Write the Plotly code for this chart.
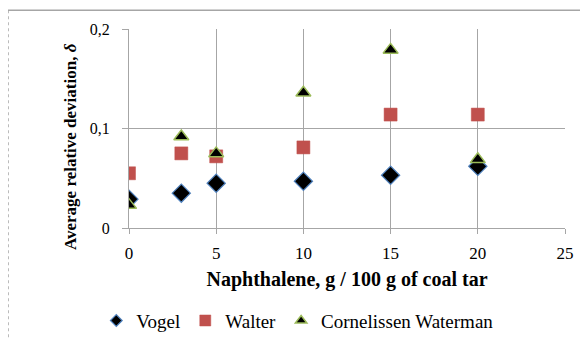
import plotly.graph_objects as go

x_vals = [0, 3, 5, 10, 15, 20]
vogel = [0.029, 0.035, 0.045, 0.047, 0.053, 0.062]
walter = [0.055, 0.075, 0.072, 0.081, 0.114, 0.114]
cornelissen = [0.023, 0.092, 0.075, 0.136, 0.179, 0.069]

y_ticks = [0, 0.1, 0.2]
y_ticktext = ["0", "0,1", "0,2"]
x_ticks = [0, 5, 10, 15, 20, 25]

FONT = "Liberation Serif"

series = [
    ("Vogel", vogel, dict(symbol="diamond", color="black", line=dict(color="#4F81BD", width=1.2)), 14, 9),
    ("Walter", walter, dict(symbol="square", color="#C0504D", line=dict(color="#C0504D", width=0.5)), 13, 11),
    ("Cornelissen Waterman", cornelissen, dict(symbol="triangle-up", color="black", line=dict(color="#9BBB59", width=1.5)), 13, 10),
]

fig = go.Figure()
for name, vals, mk, size, lsize in series:
    fig.add_trace(go.Scatter(x=x_vals, y=vals, mode="markers", name=name,
                             marker=dict(size=size, **mk), showlegend=False))
for name, vals, mk, size, lsize in series:
    fig.add_trace(go.Scatter(x=[None], y=[None], mode="markers", name=name,
                             marker=dict(size=lsize, **mk), showlegend=True))

# figure is placed at page offset (8, 8): plot area page x 129..565, y 29..228
fig.update_layout(
    width=580, height=332,
    margin=dict(l=121, r=23, t=21, b=112, autoexpand=False),
    paper_bgcolor="white", plot_bgcolor="white",
    font=dict(family=FONT, size=16, color="black"),
    legend=dict(orientation="h", x=-0.075, xanchor="left", y=-0.37, yanchor="top",
                font=dict(size=19, family=FONT), itemwidth=30,
                bgcolor="rgba(0,0,0,0)"),
    xaxis=dict(
        range=[0, 25], tickvals=x_ticks, showgrid=True, gridcolor="#A6A6A6", gridwidth=1,
        zeroline=False, showline=True, linecolor="#A6A6A6", linewidth=1,
        ticks="outside", ticklen=5, tickcolor="#A6A6A6", automargin=False,
        ticklabelstandoff=5,
        tickfont=dict(size=17, family=FONT),
        title=dict(text="<b>Naphthalene, g / 100 g of coal tar</b>", standoff=9,
                   font=dict(size=20, family=FONT)),
    ),
    yaxis=dict(
        range=[0, 0.2], tickvals=y_ticks, ticktext=y_ticktext, showgrid=True,
        gridcolor="#A6A6A6", gridwidth=1, zeroline=False, showline=True,
        linecolor="#A6A6A6", linewidth=1, ticks="outside", ticklen=6, tickcolor="#A6A6A6",
        ticklabelstandoff=9,
        automargin=False, tickfont=dict(size=16, family=FONT),
    ),
    annotations=[
        dict(text="<b>Average relative deviation, <i>δ</i></b>", textangle=-90,
             xref="paper", yref="paper", x=(70 - 129) / 436, y=(228 - 147) / 199,
             xanchor="center", yanchor="middle", showarrow=False,
             font=dict(size=17, family=FONT)),
    ],
    shapes=[
        dict(type="line", xref="paper", yref="paper", x0=-0.2775, x1=1.06, y0=1.094, y1=1.094,
             line=dict(color="#A6A6A6", width=1.5)),
        dict(type="line", xref="paper", yref="paper", x0=-0.2775, x1=-0.2775, y0=1.094, y1=-0.6,
             line=dict(color="#A6A6A6", width=1.5, dash="dot")),
    ],
)

fig.write_html("out.html")
